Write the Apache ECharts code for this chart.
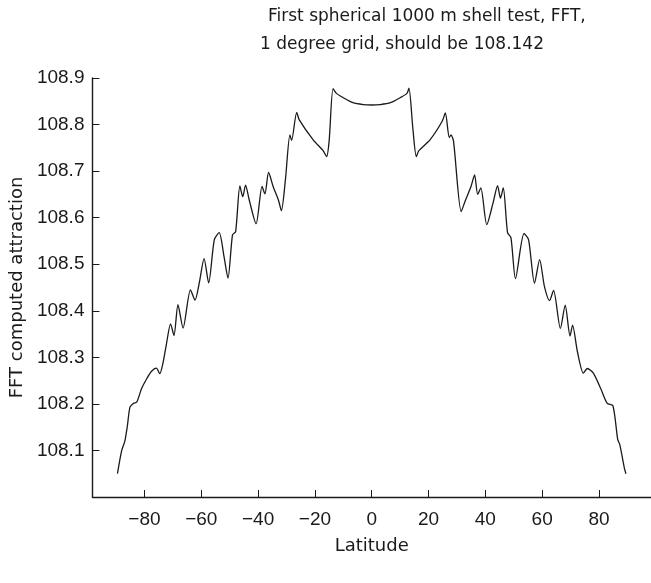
<!DOCTYPE html>
<html>
<head>
<meta charset="utf-8">
<script src="https://cdn.jsdelivr.net/npm/echarts@6/dist/echarts.min.js"></script>
<style>
  html, body { margin: 0; padding: 0; background: #fff; }
  #chart { width: 651px; height: 583px; }
</style>
</head>
<body>
<div id="chart"></div>
<script>
// Computed attraction of a 1000 m spherical shell (FFT, 1 degree grid) by latitude
const titleLines = [
  'First spherical 1000 m shell test, FFT,',
  '1 degree grid, should be 108.142'
];
const xTicks = [-80, -60, -40, -20, 0, 20, 40, 60, 80];
const yTicks = [108.1, 108.2, 108.3, 108.4, 108.5, 108.6, 108.7, 108.8, 108.9];

const latitude = [
  -89.5, -88.0, -86.9, -86.0, -85.1, -83.9, -82.7, -81.0, -79.3, -77.5,
  -75.8, -74.6, -73.5, -72.3, -70.8, -69.6, -68.2, -66.4, -63.8, -62.2,
  -60.7, -59.0, -57.4, -55.4, -53.7, -52.0, -50.6, -49.0, -47.9, -46.4,
  -45.4, -44.4, -43.2, -40.7, -38.6, -37.6, -36.3, -34.7, -32.8, -31.8,
  -30.4, -28.8, -28.2, -26.4, -25.5, -20.6, -17.1, -15.9, -15.0, -13.6,
  -12.4, -10.1, -6.6, -3.0, 0.0, 3.0, 6.6, 10.1, 12.4, 13.1,
  14.5, 15.7, 16.6, 20.5, 24.8, 25.9, 27.3, 27.9, 28.8, 31.5,
  32.9, 35.0, 36.2, 37.3, 38.4, 40.5, 42.8, 44.3, 45.3, 46.3,
  47.8, 49.0, 50.6, 53.6, 55.2, 57.3, 59.1, 60.8, 62.6, 64.0,
  66.4, 68.1, 69.8, 70.7, 72.4, 74.5, 75.9, 78.0, 80.6, 82.9,
  84.9, 86.6, 87.3, 89.0, 89.5
];
const attraction = [
  108.050, 108.100, 108.120, 108.153, 108.193, 108.201, 108.204, 108.233, 108.253, 108.270,
  108.277, 108.265, 108.287, 108.327, 108.372, 108.347, 108.413, 108.363, 108.445, 108.423,
  108.460, 108.512, 108.460, 108.553, 108.568, 108.517, 108.470, 108.563, 108.570, 108.668,
  108.645, 108.670, 108.640, 108.587, 108.667, 108.651, 108.697, 108.667, 108.637, 108.615,
  108.680, 108.778, 108.766, 108.826, 108.810, 108.767, 108.744, 108.731, 108.764, 108.877,
  108.867, 108.858, 108.847, 108.843, 108.842, 108.843, 108.847, 108.858, 108.867, 108.878,
  108.790, 108.731, 108.744, 108.767, 108.807, 108.825, 108.772, 108.778, 108.764, 108.613,
  108.636, 108.668, 108.692, 108.650, 108.664, 108.585, 108.634, 108.669, 108.642, 108.664,
  108.568, 108.557, 108.469, 108.566, 108.553, 108.459, 108.510, 108.452, 108.422, 108.444,
  108.362, 108.412, 108.346, 108.369, 108.312, 108.266, 108.276, 108.266, 108.233, 108.201,
  108.196, 108.123, 108.113, 108.060, 108.050
];

const ink = '#1a1a1a';
const tickFont = 'Liberation Sans, Arial, sans-serif';
const textFont = 'DejaVu Sans, sans-serif';

const chart = echarts.init(document.getElementById('chart'), null, { renderer: 'canvas' });
chart.setOption({
  animation: false,
  backgroundColor: '#ffffff',
  title: [
    { text: titleLines[0], left: 263, top: 3,
      textStyle: { fontFamily: textFont, fontSize: 17, fontWeight: 'normal', color: ink } },
    { text: titleLines[1], left: 255, top: 31,
      textStyle: { fontFamily: textFont, fontSize: 17, fontWeight: 'normal', color: ink } }
  ],
  grid: { left: 91, top: 78, right: -3, bottom: 86, containLabel: false },
  xAxis: {
    type: 'value',
    min: -98.3,
    max: 98.3,
    name: 'Latitude',
    nameLocation: 'middle',
    nameGap: 40,
    nameTextStyle: { fontFamily: textFont, fontSize: 18, color: ink },
    axisLine: { onZero: false, lineStyle: { color: ink, width: 1.4 } },
    axisTick: { inside: true, length: 7, customValues: xTicks, lineStyle: { color: ink, width: 1 } },
    axisLabel: {
      customValues: xTicks, margin: 13, fontFamily: tickFont, fontSize: 19, color: ink,
      formatter: v => (v < 0 ? '\u2212' + Math.abs(v) : String(v))
    },
    splitLine: { show: false }
  },
  yAxis: {
    type: 'value',
    min: 108.0,
    max: 108.9,
    name: 'FFT computed attraction',
    nameLocation: 'middle',
    nameGap: 66,
    nameRotate: 90,
    nameTextStyle: { fontFamily: textFont, fontSize: 18, color: ink },
    axisLine: { show: true, onZero: false, lineStyle: { color: ink, width: 1.4 } },
    axisTick: { show: true, inside: true, length: 7, customValues: yTicks, lineStyle: { color: ink, width: 1 } },
    axisLabel: {
      customValues: yTicks, margin: 8, fontFamily: tickFont, fontSize: 19, color: ink,
      formatter: v => v.toFixed(1)
    },
    splitLine: { show: false }
  },
  series: [{
    type: 'line',
    data: latitude.map((lat, i) => [lat, attraction[i]]),
    showSymbol: false,
    smooth: 0.25,
    lineStyle: { color: ink, width: 1.3 },
    clip: true
  }]
});
</script>
</body>
</html>
